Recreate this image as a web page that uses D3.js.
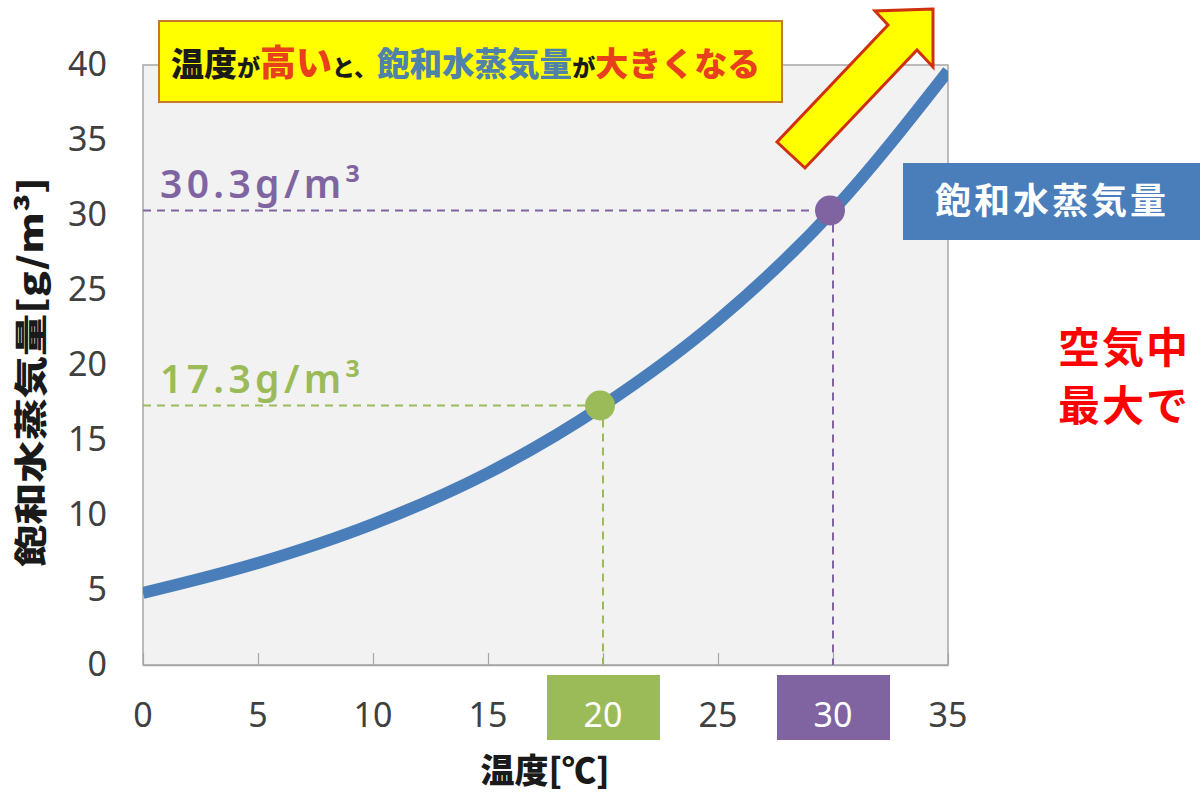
<!DOCTYPE html>
<html><head><meta charset="utf-8">
<script src="https://cdn.jsdelivr.net/npm/d3@7"></script>
<style>
html,body{margin:0;padding:0;background:#fff;}
svg{display:block;}
</style></head>
<body>
<svg id="chart" width="1200" height="800"></svg>
<script>
// ---- data ----
const temperatures = [0, 5, 10, 15, 20, 25, 30, 35];
const saturatedVapor = [4.8, 6.8, 9.4, 12.8, 17.3, 23.0, 30.3, 39.6];
const xTickValues = [0, 5, 10, 15, 20, 25, 30, 35];
const yTickValues = [0, 5, 10, 15, 20, 25, 30, 35, 40];
const highlightTemps = [20, 30];
const highlightValues = [17.3, 30.3];
const highlightLabels = ["17.3g/m³", "30.3g/m³"];
const xTitle = "温度[℃]";
const yTitle = "飽和水蒸気量[g/m³]";
const seriesName = "飽和水蒸気量";
const bannerParts = ["温度", "が", "高い", "と、", "飽和水蒸気量", "が", "大きくなる"];
const sideNote = ["空気中", "最大で"];

// ---- styles ----
const highlightColors = ["#9bbb59", "#8064a2"];
const lineColor = "#4a7ebb";
const bannerColors = ["#1a1a1a", "#1a1a1a", "#e8401c", "#1a1a1a", "#4f82a8", "#1a1a1a", "#e8401c"];
const bannerSizes = [33, 23, 36, 23, 32.5, 23, 33];

const svg = d3.select("#chart");
const W = 1200, H = 800;
const plot = {left: 143, right: 948, top: 65, bottom: 665};

svg.append("rect").attr("width", W).attr("height", H).attr("fill", "#fff");

const x = d3.scaleLinear().domain([0, 35]).range([plot.left, plot.right]);
const y = d3.scaleLinear().domain([0, 40]).range([plot.bottom, plot.top]);

// plot background
svg.append("rect")
  .attr("x", plot.left).attr("y", plot.top)
  .attr("width", plot.right - plot.left).attr("height", plot.bottom - plot.top)
  .attr("fill", "#f2f2f2").attr("stroke", "#a6a6a6").attr("stroke-width", 1.5);

// x axis (ticks inside, labels below)
const xAxis = svg.append("g").attr("transform", `translate(0,${plot.bottom})`)
  .call(d3.axisBottom(x).tickValues(xTickValues).tickSizeInner(-12).tickSizeOuter(0).tickPadding(0).tickFormat(""));
xAxis.select(".domain").attr("stroke", "#a6a6a6").attr("stroke-width", 1.5);
xAxis.selectAll(".tick line").attr("stroke", "#a6a6a6").attr("stroke-width", 1.2);

// highlight boxes behind labels
highlightTemps.forEach((t, i) => {
  svg.append("rect")
    .attr("x", x(t) - 56).attr("y", 675).attr("width", 113).attr("height", 65)
    .attr("fill", highlightColors[i]);
});

svg.append("g").selectAll("text").data(xTickValues).join("text")
  .attr("x", d => x(d)).attr("y", 727)
  .attr("text-anchor", "middle")
  .attr("font-family", "'Noto Sans', sans-serif")
  .attr("font-size", 34)
  .attr("fill", d => highlightTemps.includes(d) ? "#ffffff" : "#404040")
  .text(d => d);

// y axis labels
const yAxis = svg.append("g").attr("transform", `translate(${plot.left},0)`)
  .call(d3.axisLeft(y).tickValues(yTickValues).tickSize(0).tickPadding(36));
yAxis.select(".domain").remove();
yAxis.selectAll("text")
  .attr("font-family", "'Noto Sans', sans-serif")
  .attr("font-size", 34)
  .attr("fill", "#404040");

// axis titles
svg.append("text")
  .attr("x", 545).attr("y", 783).attr("text-anchor", "middle")
  .attr("font-family", "'Noto Sans CJK JP', sans-serif")
  .attr("font-weight", 900).attr("font-size", 34).attr("fill", "#1a1a1a")
  .text(xTitle);

svg.append("text")
  .attr("transform", "translate(43,372) rotate(-90)")
  .attr("text-anchor", "middle")
  .attr("font-family", "'Noto Sans CJK JP', sans-serif")
  .attr("font-weight", 900).attr("font-size", 33).attr("fill", "#1a1a1a")
  .attr("textLength", 390).attr("lengthAdjust", "spacingAndGlyphs")
  .text(yTitle);

// dashed guides
highlightTemps.forEach((t, i) => {
  const g = svg.append("g").attr("stroke", highlightColors[i]).attr("stroke-width", 2).attr("stroke-dasharray", "8,6").attr("fill", "none");
  g.append("line").attr("x1", plot.left).attr("x2", x(t)).attr("y1", y(highlightValues[i])).attr("y2", y(highlightValues[i]));
  g.append("line").attr("x1", x(t)).attr("x2", x(t)).attr("y1", y(highlightValues[i])).attr("y2", plot.bottom);
  svg.append("text")
    .attr("x", 160).attr("y", y(highlightValues[i]) - 13)
    .attr("font-family", "'Noto Sans', sans-serif")
    .attr("font-size", 39).attr("font-weight", 600)
    .attr("fill", highlightColors[i])
    .attr("textLength", 200).attr("lengthAdjust", "spacing")
    .text(highlightLabels[i]);
});

// curve
const data = temperatures.map((t, i) => ({t, v: saturatedVapor[i]}));
svg.append("clipPath").attr("id", "clip").append("rect")
  .attr("x", plot.left).attr("y", plot.top - 10).attr("width", plot.right - plot.left).attr("height", plot.bottom - plot.top + 10);
svg.append("path").datum(data)
  .attr("clip-path", "url(#clip)")
  .attr("d", d3.line().x(d => x(d.t)).y(d => y(d.v)).curve(d3.curveMonotoneX))
  .attr("fill", "none").attr("stroke", lineColor).attr("stroke-width", 12);

// highlight points
svg.append("g").selectAll("circle").data(highlightTemps).join("circle")
  .attr("cx", (d, i) => x(d) - 3).attr("cy", (d, i) => y(highlightValues[i]))
  .attr("r", 15).attr("fill", (d, i) => highlightColors[i]);

// arrow
const arrowPts = [[933, 9], [875, 11], [888, 25], [777, 142], [805, 168], [917, 50], [933, 67]];
svg.append("polygon")
  .attr("points", arrowPts.map(p => p.join(",")).join(" "))
  .attr("fill", "#ffff00").attr("stroke", "#d0300e").attr("stroke-width", 3).attr("stroke-linejoin", "miter");

// banner
svg.append("rect").attr("x", 159).attr("y", 21).attr("width", 623).attr("height", 81)
  .attr("fill", "#ffff00").attr("stroke", "#c8782a").attr("stroke-width", 2);
const bt = svg.append("text").attr("x", 171).attr("y", 76)
  .attr("font-family", "'Noto Sans CJK JP', sans-serif").attr("font-weight", 900);
bannerParts.forEach((s, i) => {
  bt.append("tspan").attr("font-size", bannerSizes[i]).attr("fill", bannerColors[i]).text(s);
});

// series label box
svg.append("rect").attr("x", 903).attr("y", 163).attr("width", 310).attr("height", 77).attr("fill", "#4a7ebb");
svg.append("text").attr("x", 935).attr("y", 214)
  .attr("font-family", "'Noto Sans CJK JP', sans-serif").attr("font-weight", 700)
  .attr("font-size", 36).attr("fill", "#ffffff").attr("letter-spacing", 3)
  .text(seriesName);

// side note (cut off at right edge)
sideNote.forEach((s, i) => {
  svg.append("text").attr("x", 1058).attr("y", 363 + i * 58)
    .attr("font-family", "'Noto Sans CJK JP', sans-serif").attr("font-weight", 700)
    .attr("font-size", 42).attr("letter-spacing", 2).attr("fill", "#ff0000")
    .text(s);
});
</script>
</body></html>
